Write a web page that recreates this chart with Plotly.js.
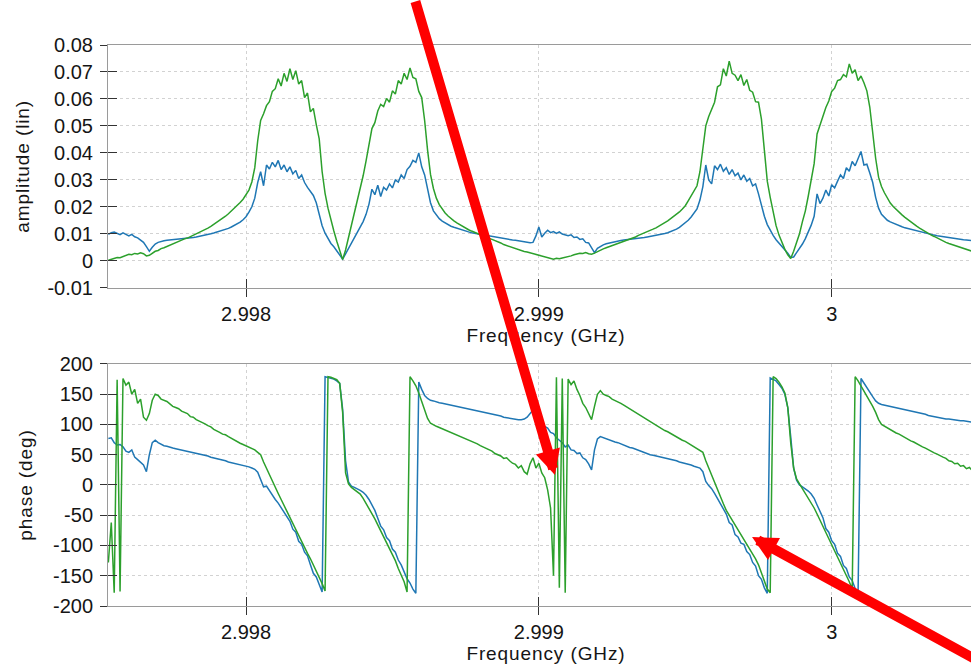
<!DOCTYPE html>
<html>
<head>
<meta charset="utf-8">
<script src="https://cdn.plot.ly/plotly-3.0.1.min.js"></script>
<style>
  html, body { margin: 0; padding: 0; overflow: hidden; background: #ffffff; }
  #plot { width: 984px; height: 664px; }
  .xtitle, .x2title, .ytitle, .y2title { letter-spacing: 0.9px; }
</style>
</head>
<body>
<div id="plot"></div>
<script>
// Sweep frequencies (GHz), 10 kHz step
const freqGHz = [
  2.99753,2.99754,2.99755,2.99756,2.99757,2.99758,2.99759,2.99760,2.99761,2.99762,
  2.99763,2.99764,2.99765,2.99766,2.99767,2.99768,2.99769,2.99770,2.99771,2.99772,
  2.99773,2.99774,2.99775,2.99776,2.99777,2.99778,2.99779,2.99780,2.99781,2.99782,
  2.99783,2.99784,2.99785,2.99786,2.99787,2.99788,2.99789,2.99790,2.99791,2.99792,
  2.99793,2.99794,2.99795,2.99796,2.99797,2.99798,2.99799,2.99800,2.99801,2.99802,
  2.99803,2.99804,2.99805,2.99806,2.99807,2.99808,2.99809,2.99810,2.99811,2.99812,
  2.99813,2.99814,2.99815,2.99816,2.99817,2.99818,2.99819,2.99820,2.99821,2.99822,
  2.99823,2.99824,2.99825,2.99826,2.99827,2.99828,2.99829,2.99830,2.99831,2.99832,
  2.99833,2.99834,2.99835,2.99836,2.99837,2.99838,2.99839,2.99840,2.99841,2.99842,
  2.99843,2.99844,2.99845,2.99846,2.99847,2.99848,2.99849,2.99850,2.99851,2.99852,
  2.99853,2.99854,2.99855,2.99856,2.99857,2.99858,2.99859,2.99860,2.99861,2.99862,
  2.99863,2.99864,2.99865,2.99866,2.99867,2.99868,2.99869,2.99870,2.99871,2.99872,
  2.99873,2.99874,2.99875,2.99876,2.99877,2.99878,2.99879,2.99880,2.99881,2.99882,
  2.99883,2.99884,2.99885,2.99886,2.99887,2.99888,2.99889,2.99890,2.99891,2.99892,
  2.99893,2.99894,2.99895,2.99896,2.99897,2.99898,2.99899,2.99900,2.99901,2.99902,
  2.99903,2.99904,2.99905,2.99906,2.99907,2.99908,2.99909,2.99910,2.99911,2.99912,
  2.99913,2.99914,2.99915,2.99916,2.99917,2.99918,2.99919,2.99920,2.99921,2.99922,
  2.99923,2.99924,2.99925,2.99926,2.99927,2.99928,2.99929,2.99930,2.99931,2.99932,
  2.99933,2.99934,2.99935,2.99936,2.99937,2.99938,2.99939,2.99940,2.99941,2.99942,
  2.99943,2.99944,2.99945,2.99946,2.99947,2.99948,2.99949,2.99950,2.99951,2.99952,
  2.99953,2.99954,2.99955,2.99956,2.99957,2.99958,2.99959,2.99960,2.99961,2.99962,
  2.99963,2.99964,2.99965,2.99966,2.99967,2.99968,2.99969,2.99970,2.99971,2.99972,
  2.99973,2.99974,2.99975,2.99976,2.99977,2.99978,2.99979,2.99980,2.99981,2.99982,
  2.99983,2.99984,2.99985,2.99986,2.99987,2.99988,2.99989,2.99990,2.99991,2.99992,
  2.99993,2.99994,2.99995,2.99996,2.99997,2.99998,2.99999,3.00000,3.00001,3.00002,
  3.00003,3.00004,3.00005,3.00006,3.00007,3.00008,3.00009,3.00010,3.00011,3.00012,
  3.00013,3.00014,3.00015,3.00016,3.00017,3.00018,3.00019,3.00020,3.00021,3.00022,
  3.00023,3.00024,3.00025,3.00026,3.00027,3.00028,3.00029,3.00030,3.00031,3.00032,
  3.00033,3.00034,3.00035,3.00036,3.00037,3.00038,3.00039,3.00040,3.00041,3.00042,
  3.00043,3.00044,3.00045,3.00046,3.00047,3.00048,3.00049,3.00050,3.00051,3.00052
];

// Linear amplitude, blue channel
const ampBlue = [
  0.0098,0.0104,0.0106,0.0100,0.0097,0.0103,0.0096,0.0092,0.0098,0.0089,
  0.0085,0.0078,0.0068,0.0052,0.0035,0.0050,0.0062,0.0068,0.0072,0.0074,
  0.0076,0.0077,0.0077,0.0078,0.0079,0.0080,0.0081,0.0083,0.0084,0.0086,
  0.0088,0.0090,0.0092,0.0094,0.0097,0.0100,0.0103,0.0106,0.0109,0.0112,
  0.0116,0.0120,0.0125,0.0130,0.0136,0.0143,0.0152,0.0163,0.0180,0.0200,
  0.0232,0.0290,0.0330,0.0278,0.0355,0.0340,0.0365,0.0348,0.0372,0.0338,
  0.0355,0.0330,0.0348,0.0322,0.0335,0.0305,0.0318,0.0290,0.0272,0.0258,
  0.0242,0.0215,0.0172,0.0130,0.0102,0.0082,0.0064,0.0052,0.0038,0.0022,
  0.0006,0.0025,0.0045,0.0065,0.0085,0.0105,0.0125,0.0145,0.0172,0.0210,
  0.0265,0.0245,0.0280,0.0238,0.0272,0.0262,0.0285,0.0270,0.0300,0.0292,
  0.0318,0.0305,0.0338,0.0350,0.0372,0.0365,0.0400,0.0348,0.0318,0.0262,
  0.0215,0.0185,0.0168,0.0156,0.0147,0.0140,0.0134,0.0128,0.0124,0.0120,
  0.0116,0.0113,0.0110,0.0107,0.0104,0.0102,0.0100,0.0097,0.0095,0.0093,
  0.0091,0.0089,0.0087,0.0085,0.0084,0.0082,0.0081,0.0079,0.0077,0.0076,
  0.0074,0.0073,0.0071,0.0069,0.0067,0.0068,0.0092,0.0125,0.0088,0.0102,
  0.0113,0.0104,0.0108,0.0101,0.0107,0.0099,0.0097,0.0093,0.0096,0.0086,
  0.0088,0.0079,0.0081,0.0068,0.0066,0.0050,0.0030,0.0046,0.0054,0.0059,
  0.0063,0.0066,0.0069,0.0071,0.0073,0.0075,0.0077,0.0078,0.0080,0.0081,
  0.0082,0.0084,0.0085,0.0086,0.0088,0.0090,0.0091,0.0093,0.0095,0.0098,
  0.0101,0.0104,0.0108,0.0112,0.0117,0.0124,0.0132,0.0141,0.0150,0.0162,
  0.0176,0.0192,0.0225,0.0275,0.0355,0.0300,0.0285,0.0352,0.0338,0.0358,
  0.0332,0.0345,0.0320,0.0338,0.0315,0.0325,0.0300,0.0318,0.0295,0.0305,
  0.0278,0.0285,0.0248,0.0205,0.0165,0.0134,0.0112,0.0094,0.0078,0.0066,
  0.0054,0.0042,0.0028,0.0012,0.0014,0.0030,0.0045,0.0062,0.0082,0.0106,
  0.0132,0.0165,0.0248,0.0212,0.0232,0.0262,0.0240,0.0282,0.0270,0.0295,
  0.0318,0.0305,0.0345,0.0332,0.0368,0.0352,0.0378,0.0405,0.0355,0.0358,
  0.0325,0.0290,0.0235,0.0195,0.0172,0.0160,0.0150,0.0144,0.0139,0.0134,
  0.0130,0.0126,0.0122,0.0119,0.0116,0.0113,0.0110,0.0108,0.0105,0.0102,
  0.0100,0.0097,0.0095,0.0093,0.0091,0.0089,0.0087,0.0086,0.0084,0.0082,
  0.0081,0.0079,0.0078,0.0077,0.0075,0.0074,0.0073,0.0072,0.0071,0.0070
];

// Linear amplitude, green channel
const ampGreen = [
  0.0002,0.0006,0.0009,0.0012,0.0011,0.0016,0.0019,0.0024,0.0022,0.0027,
  0.0025,0.0029,0.0026,0.0018,0.0020,0.0029,0.0035,0.0038,0.0045,0.0048,
  0.0053,0.0058,0.0064,0.0067,0.0073,0.0076,0.0081,0.0084,0.0089,0.0093,
  0.0098,0.0103,0.0109,0.0115,0.0121,0.0127,0.0134,0.0141,0.0149,0.0157,
  0.0165,0.0174,0.0184,0.0194,0.0205,0.0216,0.0228,0.0244,0.0262,0.0292,
  0.0345,0.0445,0.0520,0.0545,0.0575,0.0590,0.0628,0.0638,0.0675,0.0648,
  0.0695,0.0665,0.0712,0.0672,0.0705,0.0655,0.0668,0.0605,0.0622,0.0552,
  0.0565,0.0505,0.0452,0.0330,0.0250,0.0195,0.0150,0.0110,0.0072,0.0036,
  0.0004,0.0040,0.0085,0.0135,0.0185,0.0225,0.0270,0.0315,0.0370,0.0425,
  0.0490,0.0512,0.0555,0.0580,0.0572,0.0602,0.0588,0.0630,0.0618,0.0668,
  0.0655,0.0695,0.0672,0.0715,0.0680,0.0675,0.0628,0.0605,0.0520,0.0410,
  0.0320,0.0268,0.0232,0.0208,0.0190,0.0177,0.0166,0.0156,0.0148,0.0140,
  0.0133,0.0127,0.0121,0.0115,0.0110,0.0105,0.0100,0.0095,0.0091,0.0087,
  0.0083,0.0079,0.0075,0.0071,0.0066,0.0060,0.0056,0.0052,0.0050,0.0044,
  0.0041,0.0038,0.0034,0.0032,0.0029,0.0026,0.0024,0.0021,0.0018,0.0015,
  0.0012,0.0008,0.0006,0.0009,0.0007,0.0010,0.0012,0.0015,0.0018,0.0022,
  0.0026,0.0028,0.0027,0.0030,0.0026,0.0024,0.0028,0.0034,0.0040,0.0044,
  0.0048,0.0052,0.0056,0.0059,0.0063,0.0066,0.0070,0.0074,0.0078,0.0082,
  0.0088,0.0094,0.0098,0.0103,0.0108,0.0113,0.0117,0.0122,0.0128,0.0134,
  0.0141,0.0148,0.0156,0.0164,0.0172,0.0181,0.0192,0.0204,0.0222,0.0240,
  0.0260,0.0278,0.0330,0.0420,0.0500,0.0535,0.0565,0.0588,0.0645,0.0652,
  0.0712,0.0685,0.0740,0.0695,0.0688,0.0668,0.0690,0.0650,0.0672,0.0632,
  0.0625,0.0590,0.0588,0.0525,0.0410,0.0295,0.0235,0.0175,0.0130,0.0095,
  0.0068,0.0042,0.0022,0.0008,0.0035,0.0065,0.0100,0.0145,0.0185,0.0240,
  0.0300,0.0360,0.0470,0.0505,0.0540,0.0568,0.0592,0.0628,0.0640,0.0668,
  0.0672,0.0690,0.0682,0.0730,0.0695,0.0708,0.0668,0.0685,0.0660,0.0630,
  0.0570,0.0470,0.0380,0.0310,0.0275,0.0252,0.0232,0.0214,0.0201,0.0190,
  0.0180,0.0170,0.0161,0.0152,0.0144,0.0136,0.0128,0.0121,0.0114,0.0108,
  0.0101,0.0095,0.0090,0.0084,0.0079,0.0073,0.0068,0.0064,0.0060,0.0056,
  0.0052,0.0049,0.0045,0.0042,0.0038,0.0035,0.0033,0.0031,0.0029,0.0027
];

// Phase in degrees, blue channel
const phaseBlue = [
  77,78,70,66,67,63,56,54,58,46,
  42,38,33,22,50,70,74,70,67,65,
  64,62,61,60,59,58,57,56,55,54,
  52,51,50,49,48,46,45,44,42,41,
  40,38,37,35,34,33,32,31,30,28,
  26,21,8,-3,-2,-10,-17,-24,-30,-38,
  -46,-53,-60,-73,-78,-93,-98,-111,-117,-132,
  -146,-152,-166,-177,179,178,177,175,172,168,
  125,40,5,-2,-4,-6,-9,-12,-17,-24,
  -32,-42,-55,-68,-74,-87,-92,-106,-111,-124,
  -132,-145,-155,-162,-172,-179,170,158,148,143,
  140,139,137,136,135,134,133,132,131,130,
  129,128,127,126,125,124,123,122,121,119,
  118,117,116,115,114,112,111,110,109,108,
  108,108,109,112,118,124,118,105,102,97,
  94,87,85,78,74,70,63,66,58,57,
  52,53,45,42,35,25,58,76,80,78,
  76,74,72,71,70,68,66,63,62,61,
  59,58,56,54,52,50,49,48,47,46,
  45,44,43,41,40,38,37,36,34,33,
  31,30,28,22,6,-1,-6,-14,-22,-32,
  -40,-48,-62,-66,-82,-86,-96,-98,-110,-115,
  -128,-134,-150,-156,-170,-179,177,175,172,166,
  160,150,128,80,28,8,0,-3,-6,-10,
  -15,-22,-33,-45,-54,-72,-78,-92,-98,-113,
  -118,-133,-138,-152,-158,-171,-179,176,168,161,
  153,146,139,135,133,132,131,130,129,128,
  127,126,124,123,122,121,120,119,118,117,
  115,114,113,112,110,110,109,109,108,107,
  107,106,106,105,105,104,104,103,103,102
];

// Phase in degrees, green channel
const phaseGreen = [
  -128,-62,-178,174,-176,176,165,170,150,158,
  135,142,112,107,118,140,150,148,142,140,
  138,134,130,128,126,122,120,118,113,112,
  108,106,104,101,98,96,92,90,87,84,
  83,80,77,75,72,69,67,65,63,60,
  58,54,50,38,27,17,6,-4,-14,-24,
  -34,-44,-55,-65,-74,-84,-94,-104,-113,-122,
  -132,-141,-151,-163,-175,179,178,176,174,168,
  120,20,2,-4,-8,-11,-15,-22,-30,-38,
  -46,-56,-66,-76,-86,-96,-104,-114,-125,-138,
  -150,-160,-177,179,172,164,152,138,122,110,
  102,99,97,95,93,91,89,86,84,82,
  80,78,76,74,72,70,68,65,63,61,
  58,56,52,50,48,44,45,40,36,34,
  28,32,22,18,35,45,28,36,20,12,
  -8,-38,-150,178,-170,176,-178,175,166,172,
  158,148,135,128,118,108,130,150,156,150,
  148,146,142,140,137,135,132,129,126,122,
  119,116,113,110,107,104,101,98,96,93,
  90,88,85,82,80,77,74,72,69,66,
  63,61,57,54,40,28,16,2,-10,-20,
  -31,-42,-50,-58,-66,-74,-82,-90,-98,-106,
  -113,-122,-132,-145,-160,-172,-178,179,176,170,
  162,152,128,70,28,10,2,-6,-12,-20,
  -28,-38,-48,-58,-68,-80,-90,-100,-110,-120,
  -130,-140,-150,-160,-172,179,172,164,156,148,
  139,130,120,108,100,97,94,91,89,86,
  84,81,78,76,73,71,68,66,63,61,
  58,56,53,51,48,46,44,40,39,35,
  36,31,32,27,29,24,27,22,25,21
];

// Tick values and labels
const freqTicks = [2.998, 2.999, 3];
const freqTickText = ['2.998', '2.999', '3'];
const ampTicks = [-0.01, 0, 0.01, 0.02, 0.03, 0.04, 0.05, 0.06, 0.07, 0.08];
const ampTickText = ['-0.01', '0', '0.01', '0.02', '0.03', '0.04', '0.05', '0.06', '0.07', '0.08'];
const phaseTicks = [-200, -150, -100, -50, 0, 50, 100, 150, 200];
const phaseTickText = ['-200', '-150', '-100', '-50', '0', '50', '100', '150', '200'];

// Points on the phase plot that the red arrows call out
const calloutFreq = [2.999055, 2.999728];
const calloutPhase = [16.5, -86];

const BLUE = '#1f77b4';
const GREEN = '#2ca02c';
const FONT = '"Liberation Sans", Arial, sans-serif';
const TEXT = '#151515';

const xRange = [2.9975288, 3.00052];
const ampRange = [-0.01, 0.08];
const phaseRange = [-200, 200];

function freqAxis(anchor) {
  return {
    anchor: anchor, domain: [0, 1], range: xRange,
    tickmode: 'array', tickvals: freqTicks, ticktext: freqTickText,
    ticks: 'outside', ticklen: 8, tickwidth: 1, tickcolor: '#333333',
    showline: true, linecolor: '#9a9a9a', linewidth: 1, mirror: true,
    showgrid: true, gridcolor: '#d2d2d2', gridwidth: 1, griddash: 'dot',
    zeroline: false,
    tickfont: { family: FONT, size: 20, color: TEXT },
    title: { text: 'Frequency (GHz)', font: { family: FONT, size: 19, color: TEXT }, standoff: 1 }
  };
}

function valueAxis(anchor, domain, range, vals, text, title, standoff) {
  return {
    anchor: anchor, domain: domain, range: range,
    tickmode: 'array', tickvals: vals, ticktext: text,
    ticks: 'outside', ticklen: 7, tickwidth: 1, tickcolor: '#333333',
    ticklabelstandoff: 3,
    showline: true, linecolor: '#9a9a9a', linewidth: 1, mirror: false,
    showgrid: true, gridcolor: '#d2d2d2', gridwidth: 1, griddash: 'dot',
    zeroline: false,
    tickfont: { family: FONT, size: 20, color: TEXT },
    title: { text: title, font: { family: FONT, size: 19, color: TEXT }, standoff: standoff }
  };
}

// Overlaid axes carrying the green traces; they add the inner half of each tick
function innerTicks(over, anchor, range, vals) {
  return {
    overlaying: over, anchor: anchor, range: range,
    tickmode: 'array', tickvals: vals,
    ticks: 'inside', ticklen: 9, tickwidth: 1, tickcolor: '#333333',
    showticklabels: false, showgrid: false, showline: false, zeroline: false
  };
}

const traces = [
  { x: freqGHz, y: ampBlue, xaxis: 'x', yaxis: 'y', type: 'scatter', mode: 'lines',
    line: { color: BLUE, width: 1.5 } },
  { x: freqGHz, y: phaseBlue, xaxis: 'x2', yaxis: 'y2', type: 'scatter', mode: 'lines',
    line: { color: BLUE, width: 1.5 } },
  { x: freqGHz, y: ampGreen, xaxis: 'x3', yaxis: 'y3', type: 'scatter', mode: 'lines',
    line: { color: GREEN, width: 1.5 } },
  { x: freqGHz, y: phaseGreen, xaxis: 'x4', yaxis: 'y4', type: 'scatter', mode: 'lines',
    line: { color: GREEN, width: 1.5 } }
];

const arrowTail = [[-140, -485], [250, 142]];

const layout = {
  width: 984, height: 664,
  margin: { l: 108, r: 0, t: 45, b: 58 },
  paper_bgcolor: '#ffffff', plot_bgcolor: '#ffffff',
  showlegend: false, hovermode: false,
  xaxis: freqAxis('y'),
  xaxis2: freqAxis('y2'),
  yaxis: valueAxis('x', [0.5674, 1], ampRange, ampTicks, ampTickText, 'amplitude (lin)', 12),
  yaxis2: valueAxis('x2', [0, 0.4314], phaseRange, phaseTicks, phaseTickText, 'phase (deg)', 15),
  xaxis3: innerTicks('x', 'y', xRange, freqTicks),
  xaxis4: innerTicks('x2', 'y2', xRange, freqTicks),
  yaxis3: innerTicks('y', 'x', ampRange, ampTicks),
  yaxis4: innerTicks('y2', 'x2', phaseRange, phaseTicks),
  annotations: calloutFreq.map((f, k) => ({
    xref: 'x2', yref: 'y2', x: f, y: calloutPhase[k],
    text: '', showarrow: true, arrowhead: 2, arrowsize: 0.5, arrowwidth: 10,
    arrowcolor: '#ff0000', standoff: 0,
    ax: arrowTail[k][0], ay: arrowTail[k][1]
  }))
};

Plotly.newPlot('plot', traces, layout, { staticPlot: true, displayModeBar: false });
</script>
</body>
</html>
